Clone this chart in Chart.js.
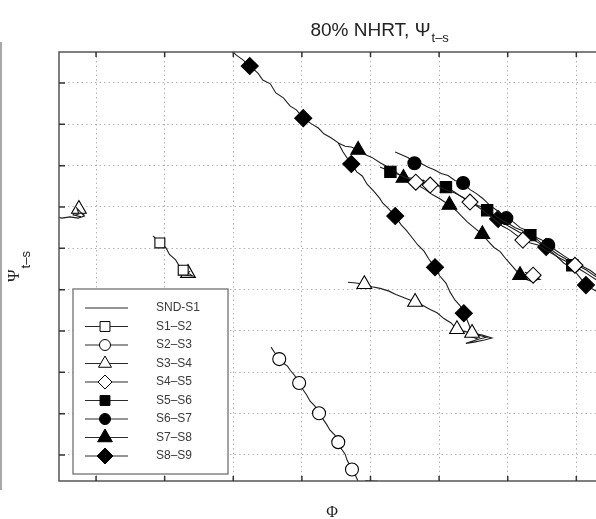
<!DOCTYPE html>
<html>
<head>
<meta charset="utf-8">
<script src="https://cdn.jsdelivr.net/npm/chart.js@4.4.1/dist/chart.umd.min.js"></script>
<style>
  html, body { margin: 0; padding: 0; background: #fff; overflow: hidden; }
  #wrap { position: relative; width: 596px; height: 519px; overflow: hidden; }
  #phaseChart { position: absolute; left: 0; top: 0; }
  #edge { position: absolute; left: 0; top: 42px; width: 2px; height: 448px; background: #a8a8a8; }
</style>
</head>
<body>
<div id="wrap">
  <canvas id="phaseChart" width="690" height="519" style="width:690px;height:519px"></canvas>
  <div id="edge"></div>
</div>
<script>
// grid lines, in axis units
const xGrid = [1, 2, 3, 4, 5, 6, 7, 8, 9];
const yGrid = [1, 2, 3, 4, 5, 6, 7, 8, 9, 10];

const seriesLabels = ['SND-S1', 'S1–S2', 'S2–S3', 'S3–S4', 'S4–S5', 'S5–S6', 'S6–S7', 'S7–S8', 'S8–S9'];

// trajectories (Phi, Psi); null splits a series into separate pieces
const sndS1X = [0.42, 0.50, 0.62, 0.74, 0.83, 0.77, 0.72, 0.75, 0.69, 0.78];
const sndS1Y = [6.76, 6.73, 6.76, 6.73, 6.78, 6.88, 6.97, 6.83, 6.80, 6.76];

const s12X = [1.83, 1.93, 2.02, 2.07, 2.16, 2.21, 2.27, 2.34, 2.41, 2.31, 2.37];
const s12Y = [6.30, 6.13, 6.01, 5.85, 5.72, 5.58, 5.47, 5.40, 5.33, 5.35, 5.45];
const s12Marks = [1, 6];

const s23X = [3.55, 3.61, 3.67, 3.73, 3.79, 3.83, 3.90, 3.96, 4.02, 4.07, 4.12, 4.19, 4.25, 4.31, 4.36, 4.41, 4.48, 4.53, 4.57, 4.63, 4.66, 4.73, 4.78, 4.82, 4.88, 5.00, 5.11, 4.94, 4.85];
const s23Y = [3.61, 3.46, 3.32, 3.22, 3.15, 3.05, 2.91, 2.74, 2.57, 2.45, 2.30, 2.18, 2.01, 1.86, 1.74, 1.60, 1.48, 1.31, 1.16, 1.02, 0.87, 0.65, 0.51, 0.36, 0.29, 0.34, 0.36, 0.38, 0.31];
const s23Marks = [2, 7, 12, 17, 21];

const s34X = [4.67, 4.79, 4.91, 5.02, 5.14, 5.26, 5.37, 5.50, 5.65, 5.75, 5.87, 5.97, 6.07, 6.17, 6.26, 6.36, 6.48, 6.63, 6.77, 6.66, 6.51, 6.39, 6.57,
  null, 2.25, 2.34, 2.43, null, 0.66, 0.75, 0.83];
const s34Y = [5.18, 5.16, 5.13, 5.07, 5.03, 4.97, 4.88, 4.80, 4.70, 4.63, 4.52, 4.44, 4.30, 4.20, 4.04, 3.99, 3.95, 3.90, 3.83, 3.78, 3.73, 3.70, 3.80,
  null, 5.50, 5.40, 5.33, null, 6.80, 6.95, 6.80];
const s34Marks = [2, 8, 14, 16, 25, 29];

const s45X = [5.43, 5.55, 5.66, 5.77, 5.87, 5.99, 6.10, 6.23, 6.34, 6.45, 6.57, 6.69, 6.80, 6.92, 7.03, 7.14, 7.22, 7.33, 7.44, 7.55, 7.66, 7.76, 7.87, 7.98, 8.08, 8.20, 8.31,
  null, 7.25, 7.37, 7.47, 7.33];
const s45Y = [7.77, 7.68, 7.60, 7.65, 7.53, 7.51, 7.41, 7.34, 7.24, 7.12, 7.00, 6.85, 6.71, 6.54, 6.44, 6.30, 6.20, 6.13, 6.08, 5.96, 5.86, 5.76, 5.67, 5.59, 5.57, 5.47, 5.33,
  null, 5.42, 5.35, 5.25, 5.23];
const s45Marks = [2, 4, 9, 16, 23, 29];

const s56X = [5.14, 5.29, 5.40, 5.52, 5.64, 5.75, 5.87, 5.99, 6.10, 6.22, 6.32, 6.42, 6.51, 6.60, 6.70, 6.80, 6.90, 7.01, 7.11, 7.21, 7.33, 7.43, 7.53, 7.63, 7.73, 7.84, 7.94, 8.06, 8.17, 8.29, 8.41];
const s56Y = [7.97, 7.85, 7.79, 7.71, 7.69, 7.59, 7.59, 7.52, 7.48, 7.37, 7.25, 7.15, 7.08, 7.01, 6.92, 6.81, 6.70, 6.60, 6.50, 6.43, 6.32, 6.21, 6.07, 5.97, 5.85, 5.75, 5.59, 5.48, 5.37, 5.24, 5.13];
const s56Marks = [1, 8, 14, 20, 26];

const s67X = [5.36, 5.46, 5.55, 5.64, 5.74, 5.84, 5.93, 6.03, 6.13, 6.23, 6.35, 6.45, 6.54, 6.64, 6.74, 6.85, 6.98, 7.08, 7.18, 7.28, 7.38, 7.49, 7.59, 7.71, 7.81, 7.91, 8.03, 8.14, 8.26, 8.38];
const s67Y = [8.33, 8.26, 8.19, 8.06, 8.05, 7.96, 7.90, 7.81, 7.76, 7.64, 7.58, 7.42, 7.33, 7.20, 7.04, 6.91, 6.73, 6.64, 6.50, 6.43, 6.29, 6.21, 6.08, 5.94, 5.83, 5.72, 5.58, 5.48, 5.34, 5.23];
const s67Marks = [3, 10, 16, 22];

const s78X = [4.53, 4.63, 4.72, 4.82, 4.92, 5.02, 5.14, 5.24, 5.36, 5.48, 5.58, 5.68, 5.80, 5.90, 6.01, 6.15, 6.25, 6.32, 6.41, 6.51, 6.63, 6.71, 6.80, 6.89, 6.98, 7.06, 7.18, 7.28, 7.44, 7.33, 7.21];
const s78Y = [8.55, 8.47, 8.45, 8.38, 8.27, 8.20, 8.07, 7.98, 7.86, 7.70, 7.64, 7.54, 7.42, 7.30, 7.20, 7.05, 6.91, 6.79, 6.64, 6.50, 6.34, 6.18, 6.02, 5.92, 5.73, 5.58, 5.35, 5.33, 5.25, 5.21, 5.28];
const s78Marks = [3, 9, 15, 20, 26];

const s89X = [2.90, 3.04, 3.14, 3.24, 3.36, 3.43, 3.54, 3.62, 3.73, 3.83, 3.92, 4.02, 4.14, 4.24, 4.32, 4.43, 4.53, 4.60, 4.72, 4.80, 4.88, 4.95, 5.05, 5.13, 5.18, 5.27, 5.36, 5.45, 5.52, 5.61, 5.69, 5.78, 5.85, 5.94, 6.01, 6.10, 6.16, 6.23, 6.31, 6.36, 6.41, 6.45, 6.42, 6.52, 6.69, 6.57, 6.45,
  null, 6.77, 6.86, 7.01, 7.17, 7.33, 7.56, 7.71, 7.82, 7.94, 8.06, 8.14, 8.26, 8.38];
const s89Y = [10.90, 10.68, 10.56, 10.41, 10.24, 10.07, 9.98, 9.76, 9.64, 9.44, 9.35, 9.15, 9.01, 8.91, 8.77, 8.67, 8.55, 8.33, 8.04, 7.85, 7.75, 7.55, 7.38, 7.22, 7.09, 6.95, 6.78, 6.56, 6.44, 6.25, 6.08, 5.93, 5.74, 5.54, 5.33, 5.16, 4.94, 4.75, 4.60, 4.43, 4.26, 4.09, 3.97, 3.92, 3.85, 3.80, 3.87,
  null, 6.83, 6.71, 6.54, 6.39, 6.25, 6.03, 5.81, 5.64, 5.52, 5.28, 5.11, 4.99, 4.89];
const s89Marks = [3, 11, 18, 26, 33, 39, 49, 53, 58];

const seriesX = [sndS1X, s12X, s23X, s34X, s45X, s56X, s67X, s78X, s89X];
const seriesY = [sndS1Y, s12Y, s23Y, s34Y, s45Y, s56Y, s67Y, s78Y, s89Y];
const seriesMarks = [[], s12Marks, s23Marks, s34Marks, s45Marks, s56Marks, s67Marks, s78Marks, s89Marks];

// marker look per series
const markerStyle = [false, 'rect', 'circle', 'triangle', 'rectRot', 'rect', 'circle', 'triangle', 'rectRot'];
const markerFilled = [false, false, false, false, false, true, true, true, true];
const markerRadius = [0, 7, 6.5, 8.5, 8, 8, 6.5, 8.5, 8.5];
const legendRadius = [0, 7, 5.5, 7.5, 7, 7, 5.5, 8.5, 8];

function toPoints(xs, ys) {
  return xs.map((x, i) => ({ x: x, y: ys[i] }));
}

function markSizes(n, marks, r) {
  const out = new Array(n).fill(0);
  marks.forEach(i => { out[i] = r; });
  return out;
}

const datasets = seriesLabels.map((label, i) => {
  const radii = markSizes(seriesX[i].length, seriesMarks[i], markerRadius[i]);
  return {
    label: label,
    data: toPoints(seriesX[i], seriesY[i]),
    borderColor: '#1e1e1e',
    borderWidth: 1.1,
    tension: 0,
    spanGaps: false,
    pointStyle: markerStyle[i],
    pointRadius: radii,
    pointHoverRadius: radii,
    pointBackgroundColor: markerFilled[i] ? '#000' : '#fff',
    pointBorderColor: '#000',
    pointBorderWidth: 1.1
  };
});

// frame, inward ticks, legend box and axis texts
const decorations = {
  id: 'decorations',
  afterDatasetsDraw(chart) {
    const ctx = chart.ctx;
    const a = chart.chartArea;
    const xs = chart.scales.x;
    const ys = chart.scales.y;

    ctx.save();
    ctx.strokeStyle = '#555';
    ctx.lineWidth = 1.5;
    ctx.strokeRect(a.left, a.top, a.right - a.left, a.bottom - a.top);

    ctx.lineWidth = 1.5;
    ctx.strokeStyle = '#333';
    ctx.beginPath();
    xs.ticks.forEach(t => {
      const px = xs.getPixelForValue(t.value);
      ctx.moveTo(px, a.top); ctx.lineTo(px, a.top + 5);
      ctx.moveTo(px, a.bottom); ctx.lineTo(px, a.bottom - 5);
    });
    ys.ticks.forEach(t => {
      const py = ys.getPixelForValue(t.value);
      ctx.moveTo(a.left, py); ctx.lineTo(a.left + 6, py);
      ctx.moveTo(a.right, py); ctx.lineTo(a.right - 6, py);
    });
    ctx.stroke();

    // legend
    const box = { left: a.left + 14, top: a.top + 237, width: 155, height: 185 };
    ctx.fillStyle = '#fff';
    ctx.fillRect(box.left, box.top, box.width, box.height);
    ctx.strokeStyle = '#666';
    ctx.lineWidth = 1.2;
    ctx.strokeRect(box.left, box.top, box.width, box.height);
    ctx.font = '12px "Liberation Sans", Arial, sans-serif';
    ctx.textBaseline = 'middle';
    chart.data.datasets.forEach((ds, i) => {
      const y = box.top + 19 + i * 18.5;
      ctx.strokeStyle = '#2a2a2a';
      ctx.lineWidth = 1;
      ctx.beginPath();
      ctx.moveTo(box.left + 12, y);
      ctx.lineTo(box.left + 55, y);
      ctx.stroke();
      if (ds.pointStyle) {
        ctx.fillStyle = ds.pointBackgroundColor;
        ctx.strokeStyle = '#000';
        ctx.lineWidth = 1;
        Chart.helpers.drawPoint(ctx, { pointStyle: ds.pointStyle, radius: legendRadius[i], rotation: 0, borderWidth: 1 }, box.left + 32, y);
      }
      ctx.fillStyle = '#3a3a3a';
      ctx.fillText(ds.label, box.left + 83, y);
    });
    ctx.restore();
  },
  afterDraw(chart) {
    const ctx = chart.ctx;
    const a = chart.chartArea;
    ctx.save();
    ctx.fillStyle = '#222';
    ctx.textBaseline = 'alphabetic';

    // title with subscript
    const main = '80% NHRT, Ψ';
    const sub = 't–s';
    ctx.font = '19px "Liberation Sans", Arial, sans-serif';
    const w1 = ctx.measureText(main).width;
    const cx = (a.left + a.right) / 2;
    ctx.fillText(main, cx - w1 / 2, 36);
    ctx.font = '13px "Liberation Sans", Arial, sans-serif';
    ctx.fillText(sub, cx + w1 / 2 + 1, 42);

    // x axis label
    ctx.font = '16px "Liberation Serif", "DejaVu Serif", serif';
    ctx.textAlign = 'center';
    ctx.fillText('Φ', a.left + 273, 517);

    // y axis label, rotated
    ctx.textAlign = 'left';
    ctx.translate(19, 282);
    ctx.rotate(-Math.PI / 2);
    ctx.font = '17px "Liberation Serif", "DejaVu Serif", serif';
    ctx.fillText('Ψ', 0, 0);
    const wPsi = ctx.measureText('Ψ').width;
    ctx.font = '13px "Liberation Sans", Arial, sans-serif';
    ctx.fillText(sub, wPsi + 1, 11);
    ctx.restore();
  }
};

const gridStyle = { color: '#b4b4b4', lineWidth: 1, drawTicks: false };
const gridDash = { display: false, dash: [1.5, 3] };

new Chart(document.getElementById('phaseChart'), {
  type: 'line',
  data: { datasets: datasets },
  options: {
    responsive: false,
    animation: false,
    events: [],
    devicePixelRatio: 1,
    layout: { padding: { left: 59, top: 52, right: 8, bottom: 38 } },
    plugins: { legend: { display: false }, tooltip: { enabled: false }, title: { display: false } },
    scales: {
      x: {
        type: 'linear', position: 'bottom', min: 0.46, max: 9.54, bounds: 'data',
        afterBuildTicks: s => { s.ticks = xGrid.map(v => ({ value: v })); },
        ticks: { display: false },
        grid: gridStyle,
        border: gridDash
      },
      y: {
        type: 'linear', position: 'left', min: 0.37, max: 10.75, bounds: 'data',
        afterBuildTicks: s => { s.ticks = yGrid.map(v => ({ value: v })); },
        ticks: { display: false },
        grid: gridStyle,
        border: gridDash
      }
    }
  },
  plugins: [decorations]
});
</script>
</body>
</html>
